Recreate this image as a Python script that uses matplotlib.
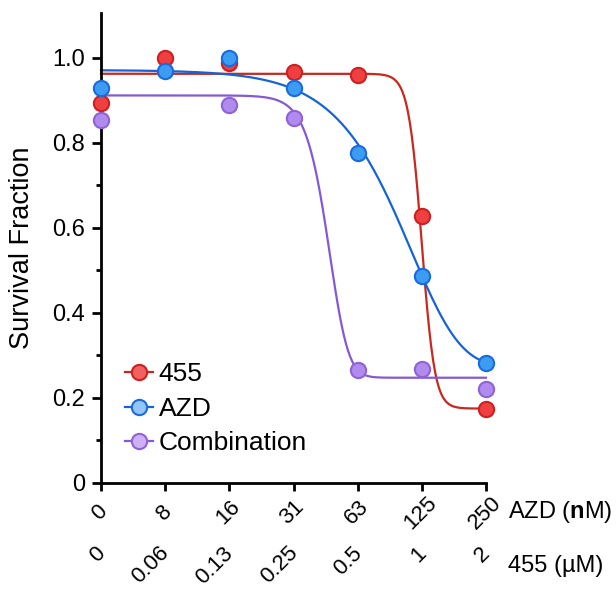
import numpy as np
import matplotlib
matplotlib.use('Agg')
import matplotlib.pyplot as plt
from matplotlib.lines import Line2D
from matplotlib.transforms import offset_copy

plt.rcParams['font.family'] = ['Liberation Sans', 'DejaVu Sans']
plt.rcParams['mathtext.fontset'] = 'custom'
plt.rcParams['mathtext.rm'] = 'Liberation Sans'
plt.rcParams['mathtext.bf'] = 'Liberation Sans:bold'

azd_labels = ['0', '8', '16', '31', '63', '125', '250']
drug455_labels = ['0', '0.06', '0.13', '0.25', '0.5', '1', '2']

# survival fraction at each dose step
red_x = [0, 1, 2, 3, 4, 5, 6]
red_y = [0.894, 1.0, 0.988, 0.965, 0.960, 0.628, 0.174]
blue_x = [0, 1, 2, 3, 4, 5, 6]
blue_y = [0.929, 0.969, 1.0, 0.929, 0.776, 0.487, 0.282]
purple_x = [0, 2, 3, 4, 5, 6]
purple_y = [0.854, 0.889, 0.859, 0.264, 0.268, 0.221]

# fitted curve parameters: top, bottom, midpoint, slope, asymmetry
red_fit = [0.962, 0.174, 5.01, 9.5, 1.1]
blue_fit = [0.9707, 0.2713, 6.18, 1.477, 7.28]
purple_fit = [0.911, 0.2466, 3.74, 4.95, 2.34]


def dose_response(x, top, bottom, mid, slope, asym):
    return bottom + (top - bottom) / (1 + np.exp(slope * (x - mid))) ** asym


series = [
    ('455', red_x, red_y, red_fit, '#EE4040', '#CF1F1F', '#C8281E', '#F26060'),
    ('AZD', blue_x, blue_y, blue_fit, '#3B9CF2', '#1A6AE0', '#1463DB', '#93C6F6'),
    ('Combination', purple_x, purple_y, purple_fit, '#B08AEC', '#8F62D8', '#8559D6', '#CDB0F6'),
]

fig = plt.figure(figsize=(6.16, 5.89), dpi=100)
ax = fig.add_axes([101 / 616, 1 - 482.5 / 589, 385 / 616, 469.5 / 589])

xs = np.linspace(0, 6, 400)
for name, x, y, fit, fc, ec, lc, lf in series:
    ax.plot(xs, dose_response(xs, *fit), color=lc, lw=1.6, zorder=2, clip_on=False)

for name, x, y, fit, fc, ec, lc, lf in [series[2], series[0], series[1]]:
    ax.plot(x, y, 'o', ms=11, mfc=fc, mec=ec, mew=1.5, ls='none', zorder=3, clip_on=False)

ax.set_xlim(0, 6)
ax.set_ylim(0, 1.105)
ax.spines['top'].set_visible(False)
ax.spines['right'].set_visible(False)
ax.spines['left'].set_linewidth(2)
ax.spines['bottom'].set_linewidth(2)

ax.set_yticks([0, 0.2, 0.4, 0.6, 0.8, 1.0])
ax.set_yticklabels(['0', '0.2', '0.4', '0.6', '0.8', '1.0'])
ax.set_yticks([0.1, 0.3, 0.5, 0.7, 0.9], minor=True)
ax.set_xticks(range(7))
ax.set_xticklabels([])
ax.tick_params(axis='y', which='major', length=6.5, width=2, labelsize=17, pad=5)
ax.tick_params(axis='y', which='minor', length=3.5, width=2)
ax.tick_params(axis='x', which='major', length=6, width=2)

ax.set_ylabel('Survival Fraction', fontsize=19.5)
ax.yaxis.set_label_coords(-0.172, 0.5)

# two rows of rotated dose labels under the axis
row1 = offset_copy(ax.get_xaxis_transform(), fig=fig, x=-1, y=-30, units='dots')
row2 = offset_copy(ax.get_xaxis_transform(), fig=fig, x=1, y=-67.5, units='dots')
for i, lab in enumerate(azd_labels):
    ax.text(i, 0, lab, transform=row1, rotation=45, rotation_mode='anchor',
            ha='center', va='center', fontsize=16)
for i, lab in enumerate(drug455_labels):
    ax.text(i, 0, lab, transform=row2, rotation=45, rotation_mode='anchor',
            ha='right', va='center', fontsize=16)

fig.text(508 / 616, 1 - 512 / 589, 'AZD ($\\mathbf{n}$M)', fontsize=17, ha='left', va='center')
fig.text(508 / 616, 1 - 566 / 589, '455 (\u00b5M)', fontsize=17, ha='left', va='center')

handles = [Line2D([], [], color=lc, lw=1.6, marker='o', ms=11, mfc=lf, mec=ec, mew=1.5)
           for name, x, y, fit, fc, ec, lc, lf in series]
ax.legend(handles, [s[0] for s in series], loc='upper left', bbox_to_anchor=(0.062, 0.2556),
          frameon=False, fontsize=19, handlelength=1.06, handletextpad=0.22,
          labelspacing=0.39, borderpad=0, borderaxespad=0)

fig.savefig('out.png', dpi=100)
